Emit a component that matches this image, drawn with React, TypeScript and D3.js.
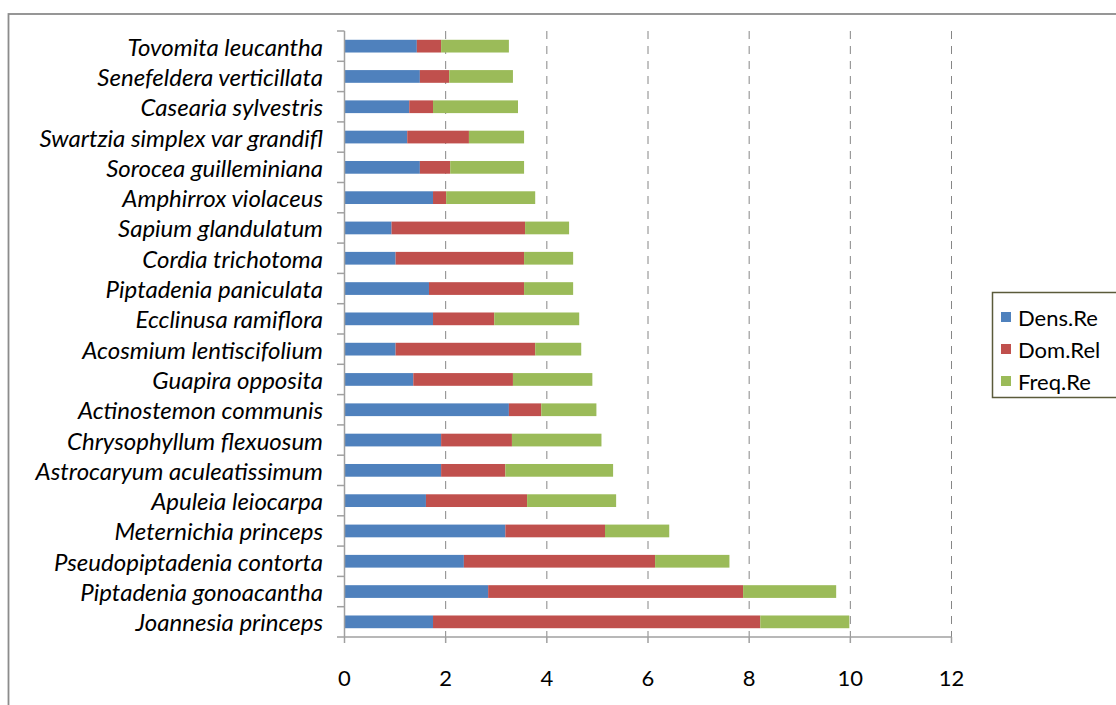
import React from "react";
import * as d3 from "d3";

const species = [
  "Tovomita leucantha",
  "Senefeldera verticillata",
  "Casearia sylvestris",
  "Swartzia simplex var grandifl",
  "Sorocea guilleminiana",
  "Amphirrox violaceus",
  "Sapium glandulatum",
  "Cordia trichotoma",
  "Piptadenia paniculata",
  "Ecclinusa ramiflora",
  "Acosmium lentiscifolium",
  "Guapira opposita",
  "Actinostemon communis",
  "Chrysophyllum flexuosum",
  "Astrocaryum aculeatissimum",
  "Apuleia leiocarpa",
  "Meternichia princeps",
  "Pseudopiptadenia contorta",
  "Piptadenia gonoacantha",
  "Joannesia princeps",
];

const densRe = [1.43, 1.49, 1.28, 1.24, 1.49, 1.75, 0.93, 1.01, 1.67, 1.75, 1.01, 1.36, 3.25, 1.91, 1.91, 1.61, 3.18, 2.36, 2.84, 1.75];
const domRel = [0.48, 0.58, 0.47, 1.22, 0.6, 0.26, 2.64, 2.54, 1.88, 1.21, 2.76, 1.97, 0.64, 1.4, 1.27, 2.0, 1.97, 3.78, 5.04, 6.47];
const freqRe = [1.34, 1.26, 1.68, 1.09, 1.46, 1.76, 0.87, 0.97, 0.97, 1.68, 0.91, 1.57, 1.09, 1.77, 2.13, 1.76, 1.27, 1.47, 1.84, 1.76];

const seriesNames = ["Dens.Re", "Dom.Rel", "Freq.Re"];
const seriesColors = ["#4f81bd", "#c0504d", "#9bbb59"];
const xTicks = [0, 2, 4, 6, 8, 10, 12];

const FONT = "Lato, 'Open Sans', sans-serif";

export default function App() {
  const x = d3.scaleLinear().domain([0, 12]).range([344.5, 951.5]);
  const y = d3
    .scaleBand<string>()
    .domain(species)
    .range([31, 637])
    .paddingInner(0.58)
    .paddingOuter(0.29);

  const rows = species.map((s, i) => ({ s, vals: [densRe[i], domRel[i], freqRe[i]] }));
  const stack = d3.stack<any>().keys(["0", "1", "2"]).value((d, k) => d.vals[+k]);
  const stacked = stack(rows);

  const step = y.step();
  const boundaries = d3.range(species.length + 1).map((i) => 31 + i * step);

  const legendY = [317, 349, 381];

  return (
    <svg
      width={1116}
      height={705}
      style={{ position: "absolute", left: 0, top: 0, background: "#fff" }}
    >
      <rect x={0} y={0} width={1116} height={705} fill="#fff" />
      <rect x={8.5} y={14} width={1300} height={900} fill="none" stroke="#8c8c8c" strokeWidth={1.8} />

      {xTicks.filter((t) => t > 0).map((t) => (
        <line
          key={"g" + t}
          x1={x(t)}
          x2={x(t)}
          y1={31}
          y2={637}
          stroke="#868686"
          strokeWidth={1}
          strokeDasharray="8,7"
        />
      ))}

      {stacked.map((layer, li) =>
        layer.map((d, i) => (
          <rect
            key={li + "-" + i}
            x={x(d[0])}
            y={y(species[i])}
            width={x(d[1]) - x(d[0])}
            height={y.bandwidth()}
            fill={seriesColors[li]}
          />
        ))
      )}

      <line x1={344.5} x2={344.5} y1={31} y2={637} stroke="#a0a0a0" strokeWidth={1.5} />
      {boundaries.map((b, i) => (
        <line key={"yt" + i} x1={337} x2={344.5} y1={b} y2={b} stroke="#a0a0a0" strokeWidth={1.5} />
      ))}
      <line x1={344.5} x2={951.5} y1={637} y2={637} stroke="#a0a0a0" strokeWidth={1.5} />
      {xTicks.map((t) => (
        <line key={"xt" + t} x1={x(t)} x2={x(t)} y1={637} y2={643} stroke="#a0a0a0" strokeWidth={1.5} />
      ))}

      {xTicks.map((t) => (
        <text
          key={"xl" + t}
          x={x(t)}
          y={677}
          textAnchor="middle"
          dominantBaseline="central"
          fontFamily={FONT}
          fontSize={22}
          fill="#000"
        >
          {t}
        </text>
      ))}

      {species.map((s) => (
        <text
          key={"yl" + s}
          x={323}
          y={(y(s) as number) + y.bandwidth() / 2}
          textAnchor="end"
          dominantBaseline="central"
          fontFamily={FONT}
          fontStyle="italic"
          fontSize={24}
          fill="#000"
        >
          {s}
        </text>
      ))}

      <rect x={992.5} y={292.5} width={200} height={105} fill="#fff" stroke="#5b5b3b" strokeWidth={1.5} />
      {seriesNames.map((n, i) => (
        <g key={n}>
          <rect x={1001} y={legendY[i] - 5} width={10} height={10} fill={seriesColors[i]} />
          <text
            x={1018}
            y={legendY[i]}
            dominantBaseline="central"
            fontFamily={FONT}
            fontSize={22}
            fill="#000"
          >
            {n}
          </text>
        </g>
      ))}
    </svg>
  );
}
